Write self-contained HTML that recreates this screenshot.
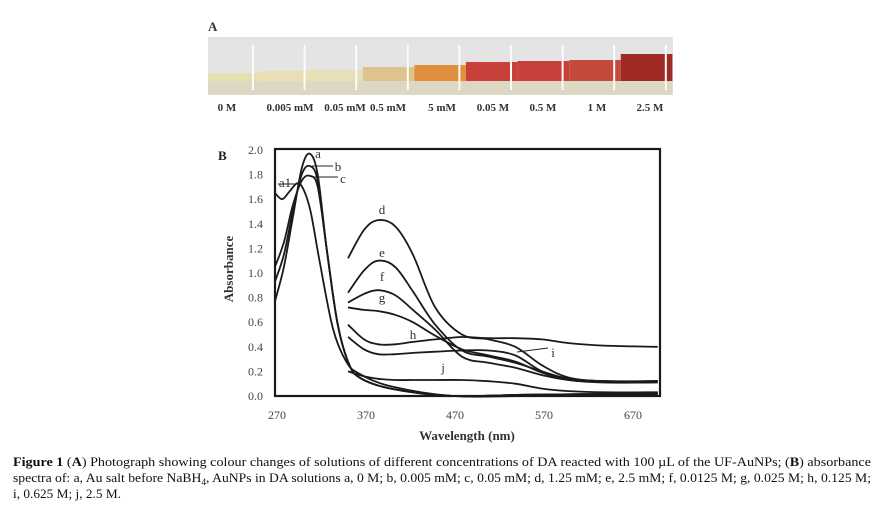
<!DOCTYPE html>
<html><head><meta charset="utf-8"><style>
body{margin:0;background:#fff;width:873px;height:507px;overflow:hidden}
svg{display:block;font-family:"Liberation Serif",serif}
</style></head><body>
<svg id="fig" width="873" height="507" viewBox="0 0 873 507">
<text x="208" y="31" font-size="13" font-weight="bold" fill="#333">A</text>
<g id="photo"></g>
<g id="tubelabels"></g>
<text x="218" y="160" font-size="13" font-weight="bold" fill="#222">B</text>
<g id="chart"></g>
<g font-size="13" fill="#111">
<text x="13" y="466" textLength="858" lengthAdjust="spacingAndGlyphs"><tspan font-weight="bold">Figure 1</tspan> (<tspan font-weight="bold">A</tspan>) Photograph showing colour changes of solutions of different concentrations of DA reacted with 100 µL of the UF-AuNPs; (<tspan font-weight="bold">B</tspan>) absorbance</text>
<text x="13" y="482" textLength="858" lengthAdjust="spacingAndGlyphs">spectra of: a, Au salt before NaBH<tspan font-size="9" dy="3">4</tspan><tspan dy="-3">, AuNPs in DA solutions a, 0 M; b, 0.005 mM; c, 0.05 mM; d, 1.25 mM; e, 2.5 mM; f, 0.0125 M; g, 0.025 M; h, 0.125 M;</tspan></text>
<text x="13" y="498" textLength="108" lengthAdjust="spacingAndGlyphs">i, 0.625 M; j, 2.5 M.</text>
</g>
</svg>
<script>
const NS="http://www.w3.org/2000/svg";
function mk(tag,attrs,parent){const e=document.createElementNS(NS,tag);for(const k in attrs)e.setAttribute(k,attrs[k]);parent.appendChild(e);return e;}

// Photo
const tubeNames=["0 M","0.005 mM","0.05 mM","0.5 mM","5 mM","0.05 M","0.5 M","1 M","2.5 M"];
const tubeLabelX=[227,290,345,388,442,493,543,597,650];
const tubeColors=["#e6dfb0","#e8e0b4","#e6e0b8","#dcc48c","#e0903c","#c8403a","#c8403c","#c44a3e","#a02a24"];
const tubeTop=[73,71,70,67,65,62,61,60,54];
const photo=document.getElementById('photo');
mk('rect',{x:208,y:37,width:465,height:58,fill:"#e4e4e4"},photo);
tubeColors.forEach((c,i)=>{
 const x=208+i*51.6, t=tubeTop[i];
 const r=mk('rect',{x:x,y:t,width:51.6,height:81-t,fill:c},photo);
 
 
 mk('rect',{x:x,y:81,width:51.6,height:14,fill:"#ddd8c4"},photo);
 mk('rect',{x:x+44,y:45,width:2,height:45,fill:"#fbfbfb"},photo);
});
const tl=document.getElementById('tubelabels');
tubeNames.forEach((n,i)=>{
 const t=mk('text',{x:tubeLabelX[i],y:111,'font-size':11,'font-weight':'bold','text-anchor':'middle',fill:'#333'},tl);
 t.textContent=n;
 
 
});

// Chart data
const xTicks=[270,370,470,570,670];
const yTicks=[0,0.2,0.4,0.6,0.8,1.0,1.2,1.4,1.6,1.8,2.0];
const wA1=[270,278,286,295,302,310,320,335,350,365,400,470,550,700];
const vA1=[1.65,1.6,1.66,1.73,1.68,1.5,1.1,0.55,0.28,0.18,0.08,0.0,0.0,0.01];
const wA=[270,280,290,300,309,318,328,340,352,365,400,470,550,700];
const vA=[0.77,1.05,1.45,1.85,1.97,1.8,1.2,0.6,0.28,0.15,0.06,0.0,0.01,0.02];
const vB=[0.93,1.15,1.5,1.8,1.87,1.75,1.2,0.6,0.28,0.15,0.06,0.0,0.01,0.02];
const vC=[1.05,1.25,1.55,1.75,1.79,1.7,1.2,0.6,0.28,0.15,0.06,0.0,0.01,0.02];
const wD=[352,370,386,405,425,450,480,510,540,570,600,640,700];
const vD=[1.12,1.35,1.43,1.38,1.15,0.72,0.5,0.46,0.4,0.25,0.15,0.12,0.12];
const vE=[0.84,1.02,1.1,1.05,0.85,0.58,0.37,0.32,0.27,0.2,0.14,0.12,0.12];
const vF=[0.76,0.83,0.86,0.82,0.7,0.54,0.32,0.27,0.23,0.17,0.13,0.12,0.12];
const vG=[0.72,0.7,0.69,0.66,0.6,0.49,0.38,0.33,0.28,0.19,0.13,0.11,0.11];
const vH=[0.58,0.46,0.42,0.42,0.44,0.46,0.48,0.47,0.47,0.46,0.43,0.41,0.4];
const vI=[0.48,0.38,0.34,0.34,0.35,0.36,0.37,0.37,0.33,0.2,0.14,0.12,0.12];
const vJ=[0.2,0.16,0.14,0.13,0.13,0.13,0.13,0.12,0.1,0.06,0.04,0.03,0.03];
const series=[["a1",wA1,vA1],["a",wA,vA],["b",wA,vB],["c",wA,vC],["d",wD,vD],["e",wD,vE],["f",wD,vF],["g",wD,vG],["h",wD,vH],["i",wD,vI],["j",wD,vJ]];

const X=w=>275+(w-270)*0.89;
const Y=v=>396-v*123;
const ch=document.getElementById('chart');
yTicks.forEach(v=>{
 const t=mk('text',{x:263,y:Y(v)+4,'font-size':12,'text-anchor':'end',fill:'#444'},ch);
 t.textContent=v.toFixed(1);
 
 
});
xTicks.forEach(w=>{
 const t=mk('text',{x:X(w)+2,y:419,'font-size':12,'text-anchor':'middle',fill:'#444'},ch);
 t.textContent=w;
 
 
});
const xt=mk('text',{x:467,y:440,'font-size':13,'font-weight':'bold','text-anchor':'middle',fill:'#333'},ch);
xt.textContent="Wavelength (nm)";


const yt=mk('text',{x:0,y:0,'font-size':13,'font-weight':'bold','text-anchor':'middle',fill:'#333',transform:'translate(233,269) rotate(-90)'},ch);
yt.textContent="Absorbance";



function smooth(pts){
 let d="M"+pts[0][0]+","+pts[0][1];
 for(let i=0;i<pts.length-1;i++){
  const p0=pts[Math.max(0,i-1)],p1=pts[i],p2=pts[i+1],p3=pts[Math.min(pts.length-1,i+2)];
  const c1=[p1[0]+(p2[0]-p0[0])/6,p1[1]+(p2[1]-p0[1])/6];
  const c2=[p2[0]-(p3[0]-p1[0])/6,p2[1]-(p3[1]-p1[1])/6];
  d+=" C"+c1[0].toFixed(1)+","+c1[1].toFixed(1)+" "+c2[0].toFixed(1)+","+c2[1].toFixed(1)+" "+p2[0].toFixed(1)+","+p2[1].toFixed(1);
 }
 return d;
}
series.forEach(s=>{
 const pts=s[1].map((w,i)=>[X(w),Y(s[2][i])]);
 const p=mk('path',{d:smooth(pts),fill:'none',stroke:'#1a1a1a','stroke-width':1.8},ch);
 
 
});
// frame
const fr=mk('rect',{x:275,y:149,width:385,height:247,fill:'none',stroke:'#1a1a1a','stroke-width':2.2},ch);



// curve labels
const lblNames=["a","b","c","a1","d","e","f","g","h","i","j"];
const lblX=[318,338,343,285,382,382,382,382,413,553,443];
const lblY=[158,171,183,187,214,257,281,302,339,357,372];
lblNames.forEach((n,i)=>{
 const t=mk('text',{x:lblX[i],y:lblY[i],'font-size':13,fill:'#333','text-anchor':'middle'},ch);
 t.textContent=n;
 
 
});
// leader lines
[[312,166,333,166],[314,177,338,177],[300,184,278,184],[517,352,548,348]].forEach(l=>{
 const ln=mk('line',{x1:l[0],y1:l[1],x2:l[2],y2:l[3],stroke:'#222','stroke-width':1},ch);
 
 
});
</script>
</body></html>
